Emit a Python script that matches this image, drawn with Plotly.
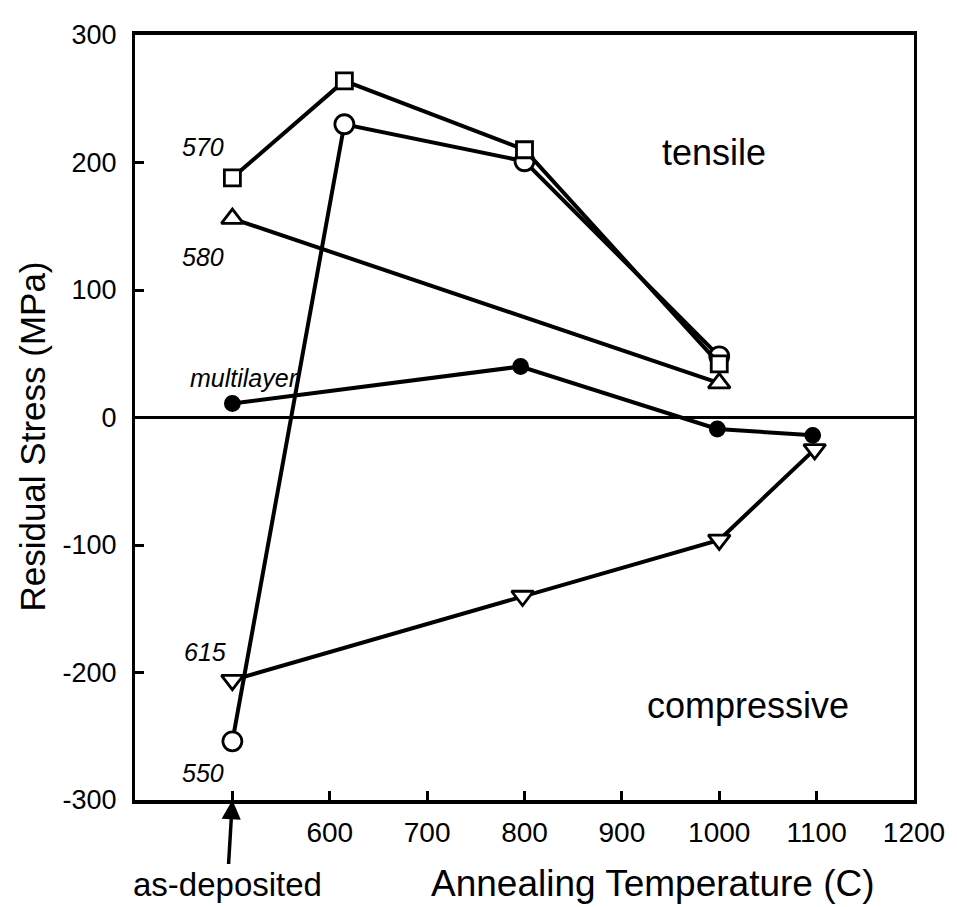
import plotly.graph_objects as go

# ---- data ----
temp_570 = [500, 615, 800, 1000]
stress_570 = [188, 264, 210, 42]

temp_550 = [500, 615, 800, 1000]
stress_550 = [-254, 230, 201, 48]

temp_580 = [500, 1000]
stress_580 = [156, 27]

temp_multi = [500, 796, 998, 1096]
stress_multi = [11, 40, -9, -14]

temp_615 = [500, 798, 1000, 1098]
stress_615 = [-206, -140, -96, -25]

x_tickvals = [500, 600, 700, 800, 900, 1000, 1100, 1200]
x_ticktext = ["", "600", "700", "800", "900", "1000", "1100", "1200"]
y_tickvals = [-300, -200, -100, 0, 100, 200, 300]
y_ticktext = ["-300", "-200", "-100", "0", "100", "200", "300"]

FONT = "Liberation Sans, Arial, sans-serif"
LW = 4

fig = go.Figure()

def add_series(xs, ys, symbol, size, fill):
    fig.add_trace(go.Scatter(
        x=xs, y=ys, mode="lines+markers",
        line=dict(color="black", width=LW),
        marker=dict(symbol=symbol, size=size, color=fill,
                    line=dict(color="black", width=2.8)),
        showlegend=False, cliponaxis=False,
    ))

add_series(temp_615, stress_615, "triangle-down", 19, "white")
add_series(temp_multi, stress_multi, "circle", 14, "black")
add_series(temp_580, stress_580, "triangle-up", 19, "white")
add_series(temp_550, stress_550, "circle", 19, "white")
add_series(temp_570, stress_570, "square", 16, "white")

# series labels
labels = [
    ("570", 493, 212, "right"),
    ("580", 493, 126, "right"),
    ("multilayer", 570, 31, "right"),
    ("615", 496, -184, "right"),
    ("550", 493, -279, "right"),
]
for txt, lx, ly, anc in labels:
    fig.add_annotation(x=lx, y=ly, xref="x", yref="y", text="<i>" + txt + "</i>",
                       showarrow=False, xanchor=anc, yanchor="middle",
                       font=dict(family=FONT, size=25, color="black"))

fig.add_annotation(x=995, y=208, xref="x", yref="y", text="tensile", showarrow=False,
                   font=dict(family=FONT, size=36, color="black"))
fig.add_annotation(x=1030, y=-226, xref="x", yref="y", text="compressive", showarrow=False,
                   font=dict(family=FONT, size=36, color="black"))

# as-deposited arrow
fig.add_annotation(x=500, y=-300, xref="x", yref="y", text="as-deposited",
                   showarrow=True, ax=-5, ay=84, arrowhead=2, arrowsize=1.1,
                   arrowwidth=3.5, arrowcolor="black", standoff=0,
                   font=dict(family=FONT, size=33, color="black"))

# axis titles
fig.add_annotation(x=0.6645, y=-0.109, xref="paper", yref="paper",
                   text="Annealing Temperature (C)", showarrow=False,
                   xanchor="center", yanchor="middle",
                   font=dict(family=FONT, size=37, color="black"))
fig.add_annotation(x=-0.131, y=0.475, xref="paper", yref="paper",
                   text="Residual Stress (MPa)", showarrow=False, textangle=-90,
                   xanchor="center", yanchor="middle",
                   font=dict(family=FONT, size=35, color="black"))

fig.update_xaxes(range=[400, 1200], tickvals=x_tickvals, ticktext=x_ticktext,
                 ticks="inside", ticklen=9, tickwidth=3, tickcolor="black",
                 showline=True, linecolor="black", linewidth=3.5, mirror=True,
                 showgrid=False, zeroline=False, ticklabelstandoff=5,
                 tickfont=dict(family=FONT, size=28, color="black"))
fig.update_yaxes(range=[-300, 300], tickvals=y_tickvals, ticktext=y_ticktext,
                 ticks="inside", ticklen=9, tickwidth=2.5, tickcolor="black",
                 showline=True, linecolor="black", linewidth=3, mirror=True,
                 showgrid=False, zeroline=True, zerolinecolor="black",
                 zerolinewidth=2.5, ticklabelstandoff=10,
                 tickfont=dict(family=FONT, size=27, color="black"))

# page has an 8px body margin, so the figure is drawn 8px smaller
fig.update_layout(width=949, height=899,
                  margin=dict(l=127, r=33, t=19, b=107),
                  paper_bgcolor="white", plot_bgcolor="white")

fig.write_html("out.html")
